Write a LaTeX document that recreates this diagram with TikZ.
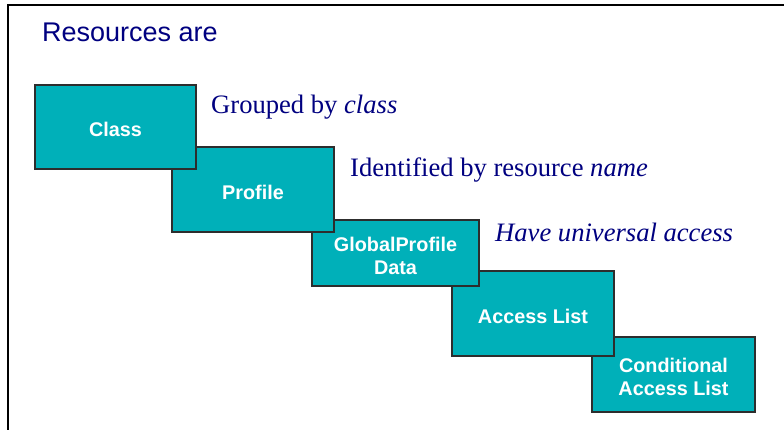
\documentclass[tikz,border=0pt]{standalone}
\usepackage{fontspec}
\setmainfont{Liberation Serif}
\newfontfamily\arialf{Liberation Sans}
\definecolor{navyt}{RGB}{0,0,128}
\definecolor{tealbox}{RGB}{0,176,185}
\definecolor{boxedge}{RGB}{45,45,45}
\begin{document}
\begin{tikzpicture}[x=1pt,y=-1pt,
  resbox/.style={draw=boxedge,line width=1.2pt,fill=tealbox,inner sep=0pt},
  boxlabel/.style={inner sep=0pt,yshift=-2.5pt,text=white,align=center,
    font=\arialf\bfseries\fontsize{19.8}{23}\selectfont},
  bullet/.style={anchor=base west,inner sep=0pt,text=navyt,font=\fontsize{26.6}{30}\selectfont}]
\useasboundingbox (0,0) rectangle (784,430);
\fill[white] (0,0) rectangle (784,430);
\coordinate (tl) at (8,5);
\coordinate (tr) at (784,5);
\coordinate (bl) at (8,430);
\draw[line width=1.5pt] (tr) -- (tl) -- (bl);
\node[anchor=base west,inner sep=0pt,text=navyt,font=\arialf\fontsize{27}{31}\selectfont] (title) at (42,41.7) {Resources are};
% boxes drawn from last to first so earlier ones lie on top
\node[resbox,minimum width=163pt,minimum height=75pt,
  label={[boxlabel]center:Conditional\\Access List}] (cal) at (673.5,374.5) {};
\node[resbox,minimum width=162pt,minimum height=85pt,
  label={[boxlabel]center:Access List}] (al) at (533,313.5) {};
\node[resbox,minimum width=167pt,minimum height=66pt,
  label={[boxlabel]center:GlobalProfile\\Data}] (gp) at (395.5,253) {};
\node[resbox,minimum width=162pt,minimum height=85pt,
  label={[boxlabel]center:Profile}] (profile) at (253,189.5) {};
\node[resbox,minimum width=161pt,minimum height=84pt,
  label={[boxlabel]center:Class}] (class) at (115.5,127) {};
\node[bullet] (t1) at (211,114) {Grouped by \textit{class}};
\node[bullet] (t2) at (350,177) {Identified by resource \textit{name}};
\node[bullet] (t3) at (495,241.5) {\textit{Have universal access}};
\end{tikzpicture}
\end{document}
